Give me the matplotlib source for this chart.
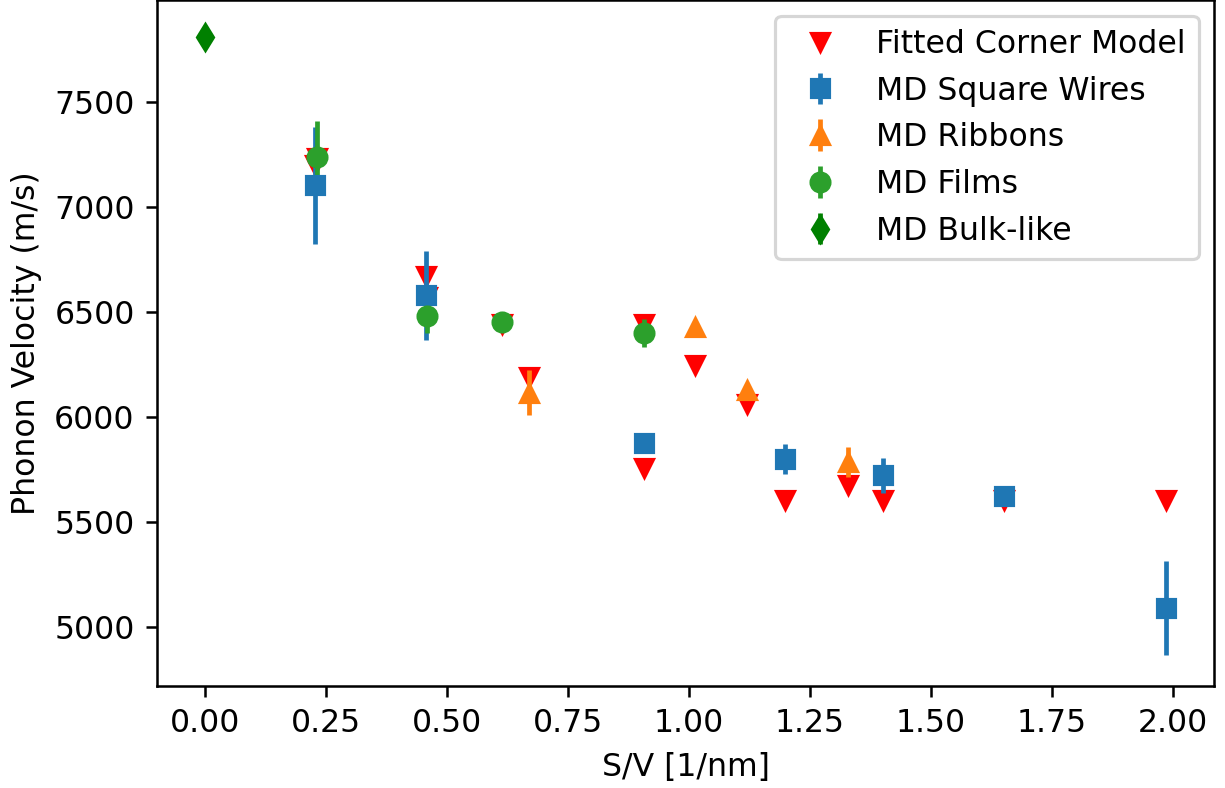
import matplotlib
matplotlib.use("Agg")
import matplotlib.pyplot as plt

# fitted corner model predictions
fit_sv = [0.228, 0.231, 0.457, 0.460, 0.613, 0.670, 0.907, 0.907,
          1.013, 1.119, 1.198, 1.329, 1.400, 1.650, 1.986]
fit_vel = [7200, 7230, 6670, 6570, 6440, 6191, 6440, 5758,
           6246, 6058, 5603, 5677, 5603, 5603, 5603]

# MD results: square wires
wire_sv = [0.228, 0.457, 0.907, 1.198, 1.400, 1.650, 1.986]
wire_vel = [7101, 6577, 5877, 5799, 5720, 5622, 5089]
wire_err = [280, 212, 20, 71, 83, 15, 223]

# MD results: ribbons
ribbon_sv = [0.670, 1.013, 1.119, 1.329]
ribbon_vel = [6115, 6427, 6127, 5784]
ribbon_err = [106, 20, 30, 71]

# MD results: films
film_sv = [0.231, 0.460, 0.613, 0.907]
film_vel = [7238, 6480, 6449, 6399]
film_err = [170, 80, 15, 65]

# MD results: bulk-like
bulk_sv = [0.0]
bulk_vel = [7807]
bulk_err = [27]

fig = plt.figure(figsize=(5.398, 3.472), dpi=227)
ax = fig.add_axes([0.1279, 0.1294, 0.991 - 0.1279, 0.9994 - 0.1294])

ax.plot(fit_sv, fit_vel, "v", color="red", linestyle="none", label="Fitted Corner Model")
ax.errorbar(wire_sv, wire_vel, yerr=wire_err, fmt="s", color="tab:blue", label="MD Square Wires")
ax.errorbar(ribbon_sv, ribbon_vel, yerr=ribbon_err, fmt="^", color="tab:orange", label="MD Ribbons")
ax.errorbar(film_sv, film_vel, yerr=film_err, fmt="o", color="tab:green", label="MD Films")
ax.errorbar(bulk_sv, bulk_vel, yerr=bulk_err, fmt="d", color="green", label="MD Bulk-like")

ax.set_xlabel("S/V [1/nm]")
ax.set_ylabel("Phonon Velocity (m/s)")
ax.legend(loc="upper right")

fig.savefig("out.png", dpi=227)
